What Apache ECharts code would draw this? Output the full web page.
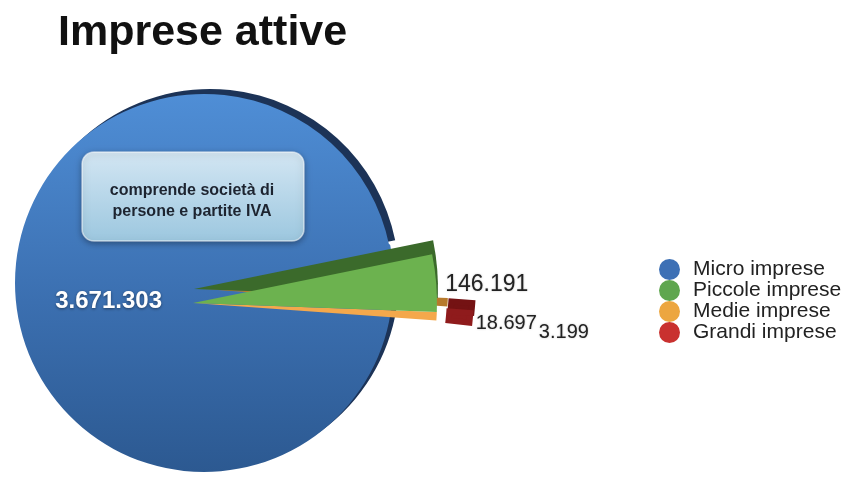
<!DOCTYPE html>
<html><head><meta charset="utf-8">
<script src="https://cdn.jsdelivr.net/npm/echarts@6/dist/echarts.min.js"></script>
<style>html,body{margin:0;padding:0;background:#fff}#c{width:863px;height:477px}</style>
</head><body><div id="c"></div>
<script>
// ---- data ----
const titleText = 'Imprese attive';
const categories = ['Micro imprese', 'Piccole imprese', 'Medie imprese', 'Grandi imprese'];
const values = [3671303, 146191, 18697, 3199];
const valueLabels = ['3.671.303', '146.191', '18.697', '3.199'];
const noteLines = ['comprende società di', 'persone e partite IVA'];

// ---- styles ----
const FONT = '"Liberation Sans", Arial, Helvetica, sans-serif';
const blueFill = {type: 'linear', x: 0, y: 94, x2: 0, y2: 472, global: true,
  colorStops: [{offset: 0, color: '#4f8ed6'}, {offset: 0.55, color: '#3b6fb0'}, {offset: 1, color: '#2c5991'}]};
const faceColors = [blueFill, '#6cb24f', '#f4a84c', '#8f1b1c'];
const sideColors = ['#1c3357', '#3b6a2b', '#b77a2c', '#741213'];
const sideOffsets = [[6, -5], [1, -14], [11, -14], [2, -10]];
const borderWidths = [0, 0, 0, 6];
const legendColors = ['#3d70b5', '#5fa64f', '#eca640', '#c9312f'];
const drawOrder = [3, 2, 1, 0];      // wedges: smallest first so larger ones sit on top
const discOrder = [0, 1, 2, 3];      // disc: large slice first
const START_UP = 353.87;             // upper edge of the large slice (clockwise start)
const START_LOW = -6.13;             // lower edge of the exploded group (counter-clockwise start)
const MIN_ANGLE = 2;
const CLEAR = 'rgba(0,0,0,0)';

const chart = echarts.init(document.getElementById('c'), null, {renderer: 'canvas'});

function styleFor(i) {
  return {color: faceColors[i], shadowColor: sideColors[i], shadowBlur: 0,
          shadowOffsetX: sideOffsets[i][0], shadowOffsetY: sideOffsets[i][1],
          borderWidth: borderWidths[i], borderColor: faceColors[i], borderJoin: 'miter'};
}
const hidden = {color: CLEAR, borderWidth: 0};
const labelBase = {position: 'outside', color: '#222', fontFamily: FONT,
  textShadowColor: 'rgba(0,0,0,0.25)', textShadowBlur: 2};
const wedgeLabelSize = [0, 23, 20, 20];

// disc: blue disc (small slices painted blue underneath the exploded wedges)
const discData = discOrder.map(i => i === 0 ? {
  name: categories[i], value: values[i],
  itemStyle: {color: blueFill, borderWidth: 0, shadowColor: sideColors[0], shadowBlur: 0,
              shadowOffsetX: sideOffsets[0][0], shadowOffsetY: sideOffsets[0][1]},
  label: {show: true, position: 'inside', formatter: valueLabels[0], color: '#fff',
          fontSize: 24, fontWeight: 'bold', fontFamily: FONT,
          textShadowColor: 'rgba(0,0,0,0.45)', textShadowBlur: 3, textShadowOffsetY: 1}
} : {
  name: categories[i], value: values[i],
  itemStyle: {color: blueFill, borderWidth: 2, borderColor: blueFill}, label: {show: false}
});

// far wedge: "Grandi imprese" block, drawn behind the others
const farData = drawOrder.map(i => i === 3 ? {
  name: categories[i], value: values[i], itemStyle: styleFor(i),
  label: Object.assign({show: true, formatter: valueLabels[i], fontSize: wedgeLabelSize[i]}, labelBase)
} : {
  name: categories[i], value: values[i], itemStyle: hidden, label: {show: false}
});

// near wedges: "Piccole" and "Medie"
const wedgeData = drawOrder.map(i => (i === 1 || i === 2) ? {
  name: categories[i], value: values[i], itemStyle: styleFor(i),
  label: Object.assign({show: true, formatter: valueLabels[i], fontSize: wedgeLabelSize[i]}, labelBase)
} : {
  name: categories[i], value: values[i], itemStyle: hidden, label: {show: false}
});

const labelNudge = {1: [1, 2], 2: [31, 7], 3: [61, 14]};
function nudge(p) {
  const n = labelNudge[drawOrder[p.dataIndex]] || [0, 0];
  return {dx: n[0], dy: n[1]};
}

chart.setOption({
  backgroundColor: '#ffffff',
  animation: false,
  title: {text: titleText, left: 53, top: 7,
    textStyle: {fontSize: 43, fontWeight: 'bold', color: '#111', fontFamily: FONT}},
  legend: {
    orient: 'vertical', left: 654, top: 254, icon: 'circle',
    itemWidth: 25, itemHeight: 21, itemGap: 0, selectedMode: false,
    textStyle: {fontSize: 21, lineHeight: 21, color: '#222', fontFamily: FONT, padding: [0, 0, 0, 6]},
    data: categories.map((name, i) => ({name, itemStyle: {color: legendColors[i], borderWidth: 0,
      shadowBlur: 0, shadowOffsetX: 0, shadowOffsetY: 0}}))
  },
  series: [
    {
      type: 'pie', name: 'disc', center: [204, 283], radius: 189,
      startAngle: START_UP, clockwise: true, minAngle: MIN_ANGLE,
      avoidLabelOverlap: false, silent: true,
      labelLine: {show: false},
      labelLayout: function () { return {dy: 14, dx: 2}; },
      data: discData, z: 1
    },
    {
      type: 'pie', name: 'far', center: [193, 293], radius: [257, 278],
      startAngle: START_LOW, clockwise: false, minAngle: MIN_ANGLE,
      avoidLabelOverlap: false, silent: true,
      labelLine: {show: false, length: 3, length2: 0},
      labelLayout: nudge,
      data: farData, z: 2
    },
    {
      type: 'pie', name: 'wedges', center: [193, 303], radius: 244,
      startAngle: START_LOW, clockwise: false, minAngle: MIN_ANGLE,
      avoidLabelOverlap: false, silent: true,
      labelLine: {show: false, length: 3, length2: 0},
      labelLayout: nudge,
      data: wedgeData, z: 3
    }
  ],
  graphic: [
    {type: 'rect', z: 100, shape: {x: 82, y: 152, width: 222, height: 89, r: 12},
     style: {fill: {type: 'linear', x: 0, y: 0, x2: 0, y2: 1,
              colorStops: [{offset: 0, color: '#d3e6f3'}, {offset: 1, color: '#9cc7df'}]},
             stroke: 'rgba(255,255,255,0.55)', lineWidth: 1.5,
             shadowColor: 'rgba(0,0,0,0.35)', shadowBlur: 6, shadowOffsetY: 2}},
    {type: 'text', z: 101, x: 192, y: 201,
     style: {text: noteLines.join('\n'), align: 'center', verticalAlign: 'middle',
             font: 'bold 16px ' + FONT, lineHeight: 21, fill: '#1d2430'}}
  ]
});
</script></body></html>
